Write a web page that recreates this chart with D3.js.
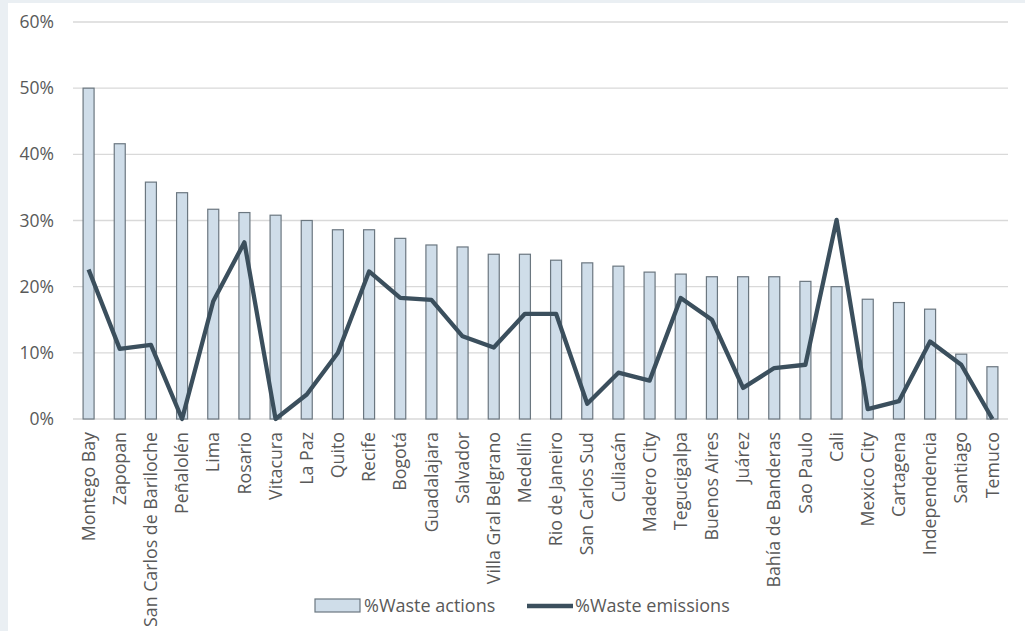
<!DOCTYPE html>
<html><head><meta charset="utf-8">
<script src="https://cdn.jsdelivr.net/npm/d3@7"></script>
<style>body{margin:0;background:#fff}svg{display:block}</style>
</head><body>
<svg id="chart" width="1025" height="631"></svg>
<script>
const categories = ["Montego Bay","Zapopan","San Carlos de Bariloche","Peñalolén","Lima","Rosario","Vitacura","La Paz","Quito","Recife","Bogotá","Guadalajara","Salvador","Villa Gral Belgrano","Medellín","Rio de Janeiro","San Carlos Sud","Culiacán","Madero City","Tegucigalpa","Buenos Aires","Juárez","Bahía de Banderas","Sao Paulo","Cali","Mexico City","Cartagena","Independencia","Santiago","Temuco"];
const wasteActions = [50.0,41.6,35.8,34.2,31.7,31.2,30.8,30.0,28.6,28.6,27.3,26.3,26.0,24.9,24.9,24.0,23.6,23.1,22.2,21.9,21.5,21.5,21.5,20.8,20.0,18.1,17.6,16.6,9.8,7.9];
const wasteEmissions = [22.6,10.6,11.2,0.0,17.8,26.7,0.0,3.7,10.0,22.3,18.3,18.0,12.5,10.8,15.9,15.9,2.3,7.0,5.8,18.3,15.0,4.7,7.7,8.2,30.1,1.5,2.7,11.7,8.2,0.0];
const yTicks = [0,10,20,30,40,50,60];
const seriesNames = ["%Waste actions","%Waste emissions"];

const svg = d3.select("#chart");
const W = 1025, H = 631;
const m = {left:73, right:17, top:22, bottom:212};

svg.append("rect").attr("width",W).attr("height",H).attr("fill","#eaeff3");
svg.append("rect").attr("x",8).attr("y",3).attr("width",W-8).attr("height",H-3).attr("fill","#ffffff");

const x = d3.scaleBand().domain(categories).range([m.left, W-m.right]).paddingInner(0).paddingOuter(0);
const y = d3.scaleLinear().domain([0,60]).range([H-m.bottom, m.top]);

const font = "'Open Sans', sans-serif";
const textCol = "#595959";

// gridlines
svg.append("g").selectAll("line").data(yTicks).join("line")
  .attr("x1", m.left).attr("x2", W-m.right)
  .attr("y1", d=>y(d)).attr("y2", d=>y(d))
  .attr("stroke","#d9d9d9").attr("stroke-width",1.3);

// y axis labels
const yAxis = d3.axisLeft(y).tickValues(yTicks).tickFormat(d=>d+"%").tickSize(0).tickPadding(19);
const yg = svg.append("g").attr("transform",`translate(${m.left},0)`).call(yAxis);
yg.select(".domain").remove();
yg.selectAll("text").attr("font-family",font).attr("font-size",17.5).attr("fill",textCol);

// bars
const bw = 11;
svg.append("g").selectAll("rect").data(categories).join("rect")
  .attr("x", (d)=>x(d)+x.bandwidth()/2-bw/2)
  .attr("y", (d,i)=>y(wasteActions[i]))
  .attr("width", bw)
  .attr("height", (d,i)=>y(0)-y(wasteActions[i]))
  .attr("fill","#cfdde9").attr("stroke","#6b7780").attr("stroke-width",1.2);

// line
const line = d3.line().x((d,i)=>x(categories[i])+x.bandwidth()/2).y(d=>y(d));
svg.append("path").datum(wasteEmissions).attr("d",line)
  .attr("fill","none").attr("stroke","#3b4f5d").attr("stroke-width",4.3).attr("stroke-linejoin","round");

// x axis labels
const xAxis = d3.axisBottom(x).tickSize(0).tickPadding(0);
const xg = svg.append("g").attr("transform",`translate(0,${y(0)})`).call(xAxis);
xg.select(".domain").remove();
xg.selectAll("text")
  .attr("font-family",font).attr("font-size",17.8).attr("fill",textCol)
  .attr("text-anchor","end").attr("dy","0.35em")
  .attr("transform","translate(0,13) rotate(-90)")
  .attr("x",0).attr("y",0);

// legend
const lg = svg.append("g");
lg.append("rect").attr("x",315).attr("y",599).attr("width",45).attr("height",13)
  .attr("fill","#cfdde9").attr("stroke","#6b7780").attr("stroke-width",1.2);
lg.append("text").attr("x",364).attr("y",606).attr("dy","0.35em").text(seriesNames[0])
  .attr("font-family",font).attr("font-size",18).attr("fill",textCol);
lg.append("line").attr("x1",527).attr("x2",573).attr("y1",606).attr("y2",606)
  .attr("stroke","#3b4f5d").attr("stroke-width",4.3);
lg.append("text").attr("x",575).attr("y",606).attr("dy","0.35em").text(seriesNames[1])
  .attr("font-family",font).attr("font-size",18).attr("fill",textCol);
</script>
</body></html>
